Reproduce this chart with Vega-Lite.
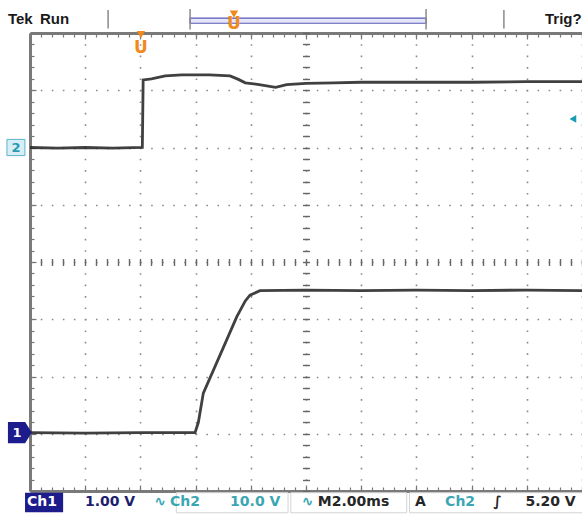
{
  "$schema": "https://vega.github.io/schema/vega-lite/v6.json",
  "width": 552,
  "height": 458,
  "autosize": {"type": "none"},
  "padding": {"left": 30, "top": 33, "right": 0, "bottom": 23},
  "background": "white",
  "config": {"view": {"stroke": null}, "axis": {"labels": false, "title": null}},
  "datasets": {
    "traces": [
      {"ch": "Ch2", "t": 0, "v": 2.0}, {"ch": "Ch2", "t": 1, "v": 1.99}, {"ch": "Ch2", "t": 2, "v": 2.0}, {"ch": "Ch2", "t": 3, "v": 1.99}, {"ch": "Ch2", "t": 4.07, "v": 2.0},
      {"ch": "Ch2", "t": 4.1, "v": 3.18}, {"ch": "Ch2", "t": 4.4, "v": 3.2}, {"ch": "Ch2", "t": 4.9, "v": 3.25}, {"ch": "Ch2", "t": 5.5, "v": 3.27}, {"ch": "Ch2", "t": 6.5, "v": 3.27},
      {"ch": "Ch2", "t": 7.25, "v": 3.25}, {"ch": "Ch2", "t": 7.55, "v": 3.19}, {"ch": "Ch2", "t": 7.8, "v": 3.13}, {"ch": "Ch2", "t": 8.3, "v": 3.1}, {"ch": "Ch2", "t": 8.9, "v": 3.05},
      {"ch": "Ch2", "t": 9.3, "v": 3.1}, {"ch": "Ch2", "t": 10, "v": 3.12}, {"ch": "Ch2", "t": 11, "v": 3.13}, {"ch": "Ch2", "t": 12, "v": 3.14}, {"ch": "Ch2", "t": 14, "v": 3.14},
      {"ch": "Ch2", "t": 16, "v": 3.14}, {"ch": "Ch2", "t": 18, "v": 3.15}, {"ch": "Ch2", "t": 20, "v": 3.15},
      {"ch": "Ch1", "t": 0, "v": -2.98}, {"ch": "Ch1", "t": 2, "v": -2.99}, {"ch": "Ch1", "t": 4, "v": -2.98}, {"ch": "Ch1", "t": 5.98, "v": -2.98}, {"ch": "Ch1", "t": 6.1, "v": -2.8},
      {"ch": "Ch1", "t": 6.28, "v": -2.29}, {"ch": "Ch1", "t": 7.0, "v": -1.5}, {"ch": "Ch1", "t": 7.49, "v": -0.96}, {"ch": "Ch1", "t": 7.8, "v": -0.68}, {"ch": "Ch1", "t": 7.97, "v": -0.58},
      {"ch": "Ch1", "t": 8.33, "v": -0.5}, {"ch": "Ch1", "t": 10, "v": -0.49}, {"ch": "Ch1", "t": 12, "v": -0.5}, {"ch": "Ch1", "t": 14, "v": -0.49}, {"ch": "Ch1", "t": 16, "v": -0.5},
      {"ch": "Ch1", "t": 18, "v": -0.49}, {"ch": "Ch1", "t": 20, "v": -0.5}
    ],
    "top": [
      {"t": -0.8, "v": 4.24, "label": "Tek"},
      {"t": 0.36, "v": 4.24, "label": "Run"},
      {"t": 18.66, "v": 4.24, "label": "Trig?"}
    ],
    "status": [
      {"t": -0.11, "v": -4.19, "label": "Ch1", "grp": "inv"},
      {"t": 1.99, "v": -4.19, "label": "1.00 V", "grp": "ch1"},
      {"t": 4.5, "v": -4.19, "label": "∿", "grp": "ch2"},
      {"t": 5.07, "v": -4.19, "label": "Ch2", "grp": "ch2"},
      {"t": 7.25, "v": -4.19, "label": "10.0 V", "grp": "ch2"},
      {"t": 9.85, "v": -4.19, "label": "∿", "grp": "ch2"},
      {"t": 10.43, "v": -4.19, "label": "M2.00ms", "grp": "sys"},
      {"t": 13.95, "v": -4.19, "label": "A", "grp": "sys"},
      {"t": 15.04, "v": -4.19, "label": "Ch2", "grp": "ch2"},
      {"t": 16.78, "v": -4.19, "label": "∫", "grp": "sys"},
      {"t": 17.95, "v": -4.19, "label": "5.20 V", "grp": "sys"}
    ],
    "panels": [
      {"t": 5.3, "t2": 9.35, "v": -4.03, "v2": -4.38},
      {"t": 9.45, "t2": 13.65, "v": -4.03, "v2": -4.38},
      {"t": 13.75, "t2": 20.2, "v": -4.03, "v2": -4.38}
    ],
    "boxes": [
      {"t": -0.18, "t2": 1.2, "v": -4.03, "v2": -4.37, "kind": "ch1"}
    ],
    "record": [
      {"t": 5.8, "t2": 14.35, "v": 4.17, "v2": 4.26}
    ],
    "bars": [
      {"t": 2.83, "v": 4.08, "v2": 4.4},
      {"t": 17.17, "v": 4.08, "v2": 4.4},
      {"t": 5.8, "v": 4.06, "v2": 4.42},
      {"t": 14.35, "v": 4.06, "v2": 4.42}
    ],
    "trigTri": [
      {"t": 4.02, "v": 3.97},
      {"t": 7.39, "v": 4.33}
    ],
    "trigU": [
      {"t": 4.02, "v": 3.74, "label": "U"},
      {"t": 7.39, "v": 4.15, "label": "U"}
    ],
    "gnd1": [{"t": -0.32, "v": -2.98}],
    "gnd1txt": [{"t": -0.47, "v": -2.98, "label": "1"}],
    "gnd2": [{"t": -0.51, "v": 2.0}],
    "gnd2txt": [{"t": -0.51, "v": 2.0, "label": "2"}],
    "level": [{"t": 19.67, "v": 2.5}]
  },
  "resolve": {"axis": {"x": "independent", "y": "independent"}},
  "layer": [
    {
      "data": {"name": "panels"},
      "mark": {"type": "rect", "fill": "#ffffff", "stroke": "#d4d4d4", "strokeWidth": 1},
      "encoding": {
        "x": {"field": "t", "type": "quantitative", "scale": {"domain": [0, 20], "nice": false, "zero": false}, "axis": null},
        "x2": {"field": "t2"},
        "y": {"field": "v", "type": "quantitative", "scale": {"domain": [-4, 4], "nice": false, "zero": false}, "axis": null},
        "y2": {"field": "v2"}
      }
    },
    {
      "data": {"name": "traces"},
      "mark": {"type": "line", "color": "#2b2b2b", "strokeWidth": 2.8, "opacity": 0.9},
      "encoding": {
        "x": {"field": "t", "type": "quantitative", "scale": {"domain": [0, 20], "nice": false, "zero": false},
          "axis": {"orient": "bottom", "values": [0,2,4,6,8,10,12,14,16,18,20], "grid": true, "gridColor": "#8a8a8a", "gridWidth": 1.6, "gridDash": [1.6, 9.85], "gridDashOffset": 0.8,
            "domain": true, "domainColor": "#7a7a7a", "domainWidth": 3, "ticks": true, "tickSize": -6, "tickColor": "#777", "tickWidth": 1.2, "labels": false, "title": null}},
        "y": {"field": "v", "type": "quantitative", "scale": {"domain": [-4, 4], "nice": false, "zero": false},
          "axis": {"orient": "left", "values": [-4,-3,-2,-1,0,1,2,3,4], "grid": true, "gridColor": "#8a8a8a", "gridWidth": 1.6, "gridDash": [1.6, 9.44], "gridDashOffset": 0.8,
            "domain": true, "domainColor": "#7a7a7a", "domainWidth": 3, "ticks": true, "tickSize": -6, "tickColor": "#777", "tickWidth": 1.2, "labels": false, "title": null}},
        "detail": {"field": "ch", "type": "nominal"}
      }
    },
    {
      "data": {"name": "boxes"},
      "mark": {"type": "rect", "color": "#1c1c8c"},
      "encoding": {
        "x": {"field": "t", "type": "quantitative", "scale": {"domain": [0, 20], "nice": false, "zero": false},
          "axis": {"orient": "bottom", "offset": -232.5, "values": [0,0.4,0.8,1.2,1.6,2,2.4,2.8,3.2,3.6,4,4.4,4.8,5.2,5.6,6,6.4,6.8,7.2,7.6,8,8.4,8.8,9.2,9.6,10,10.4,10.8,11.2,11.6,12,12.4,12.8,13.2,13.6,14,14.4,14.8,15.2,15.6,16,16.4,16.8,17.2,17.6,18,18.4,18.8,19.2,19.6,20],
            "grid": false, "domain": false, "ticks": true, "tickSize": 7, "tickColor": "#666", "tickWidth": 1.4, "labels": false, "title": null}},
        "x2": {"field": "t2"},
        "y": {"field": "v", "type": "quantitative", "scale": {"domain": [-4, 4], "nice": false, "zero": false},
          "axis": {"orient": "left", "offset": -279.5, "values": [-4,-3.8,-3.6,-3.4,-3.2,-3,-2.8,-2.6,-2.4,-2.2,-2,-1.8,-1.6,-1.4,-1.2,-1,-0.8,-0.6,-0.4,-0.2,0,0.2,0.4,0.6,0.8,1,1.2,1.4,1.6,1.8,2,2.2,2.4,2.6,2.8,3,3.2,3.4,3.6,3.8,4],
            "grid": false, "domain": false, "ticks": true, "tickSize": 7, "tickColor": "#666", "tickWidth": 1.4, "labels": false, "title": null}},
        "y2": {"field": "v2"}
      }
    },
    {
      "data": {"name": "record"},
      "mark": {"type": "rect", "fill": "#e6e6fa", "stroke": "#5a5ab8", "strokeWidth": 1.2},
      "encoding": {
        "x": {"field": "t", "type": "quantitative", "scale": {"domain": [0, 20], "nice": false, "zero": false},
          "axis": {"orient": "top", "values": [0,0.4,0.8,1.2,1.6,2,2.4,2.8,3.2,3.6,4,4.4,4.8,5.2,5.6,6,6.4,6.8,7.2,7.6,8,8.4,8.8,9.2,9.6,10,10.4,10.8,11.2,11.6,12,12.4,12.8,13.2,13.6,14,14.4,14.8,15.2,15.6,16,16.4,16.8,17.2,17.6,18,18.4,18.8,19.2,19.6,20],
            "grid": false, "domain": true, "domainColor": "#7a7a7a", "domainWidth": 3, "ticks": true, "tickSize": -4, "tickColor": "#777", "tickWidth": 1.2, "labels": false, "title": null}},
        "x2": {"field": "t2"},
        "y": {"field": "v", "type": "quantitative", "scale": {"domain": [-4, 4], "nice": false, "zero": false},
          "axis": {"orient": "left", "values": [-4,-3.8,-3.6,-3.4,-3.2,-3,-2.8,-2.6,-2.4,-2.2,-2,-1.8,-1.6,-1.4,-1.2,-1,-0.8,-0.6,-0.4,-0.2,0,0.2,0.4,0.6,0.8,1,1.2,1.4,1.6,1.8,2,2.2,2.4,2.6,2.8,3,3.2,3.4,3.6,3.8,4],
            "grid": false, "domain": false, "ticks": true, "tickSize": -4, "tickColor": "#777", "tickWidth": 1.2, "labels": false, "title": null}},
        "y2": {"field": "v2"}
      }
    },
    {
      "data": {"name": "bars"},
      "mark": {"type": "rule", "color": "#8a8a8a", "strokeWidth": 1.5},
      "encoding": {
        "x": {"field": "t", "type": "quantitative", "scale": {"domain": [0, 20], "nice": false, "zero": false},
          "axis": {"orient": "bottom", "values": [0,0.4,0.8,1.2,1.6,2,2.4,2.8,3.2,3.6,4,4.4,4.8,5.2,5.6,6,6.4,6.8,7.2,7.6,8,8.4,8.8,9.2,9.6,10,10.4,10.8,11.2,11.6,12,12.4,12.8,13.2,13.6,14,14.4,14.8,15.2,15.6,16,16.4,16.8,17.2,17.6,18,18.4,18.8,19.2,19.6,20],
            "grid": false, "domain": false, "ticks": true, "tickSize": -4, "tickColor": "#777", "tickWidth": 1.2, "labels": false, "title": null}},
        "y": {"field": "v", "type": "quantitative", "scale": {"domain": [-4, 4], "nice": false, "zero": false}, "axis": null},
        "y2": {"field": "v2"}
      }
    },
    {
      "data": {"name": "top"},
      "mark": {"type": "text", "align": "left", "baseline": "middle", "font": "Liberation Sans", "fontSize": 15, "fontWeight": "bold", "color": "#1a1a1a"},
      "encoding": {
        "x": {"field": "t", "type": "quantitative", "scale": {"domain": [0, 20], "nice": false, "zero": false},
          "axis": {"orient": "top", "values": [0,2,4,6,8,10,12,14,16,18,20], "grid": false, "domain": false, "ticks": true, "tickSize": -6, "tickColor": "#777", "tickWidth": 1.2, "labels": false, "title": null}},
        "y": {"field": "v", "type": "quantitative", "scale": {"domain": [-4, 4], "nice": false, "zero": false}, "axis": null},
        "text": {"field": "label"}
      }
    },
    {
      "data": {"name": "status"},
      "mark": {"type": "text", "align": "left", "baseline": "middle", "font": "DejaVu Sans", "fontSize": 14, "fontWeight": "bold"},
      "encoding": {
        "x": {"field": "t", "type": "quantitative", "scale": {"domain": [0, 20], "nice": false, "zero": false}, "axis": null},
        "y": {"field": "v", "type": "quantitative", "scale": {"domain": [-4, 4], "nice": false, "zero": false}, "axis": null},
        "text": {"field": "label"},
        "color": {"field": "grp", "type": "nominal", "scale": {"domain": ["inv", "ch1", "ch2", "sys"], "range": ["#ffffff", "#1e1e6e", "#3aa6b4", "#262626"]}, "legend": null}
      }
    },
    {
      "data": {"name": "trigTri"},
      "mark": {"type": "point", "shape": "triangle-down", "filled": true, "size": 70, "color": "#f08a1c", "opacity": 1},
      "encoding": {
        "x": {"field": "t", "type": "quantitative", "scale": {"domain": [0, 20], "nice": false, "zero": false}, "axis": null},
        "y": {"field": "v", "type": "quantitative", "scale": {"domain": [-4, 4], "nice": false, "zero": false}, "axis": null}
      }
    },
    {
      "data": {"name": "trigU"},
      "mark": {"type": "text", "align": "center", "baseline": "middle", "font": "DejaVu Sans", "fontSize": 17, "fontWeight": "bold", "color": "#f08a1c"},
      "encoding": {
        "x": {"field": "t", "type": "quantitative", "scale": {"domain": [0, 20], "nice": false, "zero": false}, "axis": null},
        "y": {"field": "v", "type": "quantitative", "scale": {"domain": [-4, 4], "nice": false, "zero": false}, "axis": null},
        "text": {"field": "label"}
      }
    },
    {
      "data": {"name": "gnd1"},
      "mark": {"type": "point", "shape": "M-1,-0.8L0.3,-0.8L0.8,0L0.3,0.8L-1,0.8Z", "filled": true, "size": 700, "color": "#1c1c8c", "opacity": 1},
      "encoding": {
        "x": {"field": "t", "type": "quantitative", "scale": {"domain": [0, 20], "nice": false, "zero": false}, "axis": null},
        "y": {"field": "v", "type": "quantitative", "scale": {"domain": [-4, 4], "nice": false, "zero": false}, "axis": null}
      }
    },
    {
      "data": {"name": "gnd1txt"},
      "mark": {"type": "text", "align": "center", "baseline": "middle", "font": "DejaVu Sans", "fontSize": 13, "fontWeight": "bold", "color": "#ffffff"},
      "encoding": {
        "x": {"field": "t", "type": "quantitative", "scale": {"domain": [0, 20], "nice": false, "zero": false}, "axis": null},
        "y": {"field": "v", "type": "quantitative", "scale": {"domain": [-4, 4], "nice": false, "zero": false}, "axis": null},
        "text": {"field": "label"}
      }
    },
    {
      "data": {"name": "gnd2"},
      "mark": {"type": "point", "shape": "M-1,-0.9L1,-0.9L1,0.9L-1,0.9Z", "filled": true, "size": 324, "fill": "#d8eef6", "stroke": "#5ab4cc", "strokeWidth": 1, "opacity": 1},
      "encoding": {
        "x": {"field": "t", "type": "quantitative", "scale": {"domain": [0, 20], "nice": false, "zero": false}, "axis": null},
        "y": {"field": "v", "type": "quantitative", "scale": {"domain": [-4, 4], "nice": false, "zero": false}, "axis": null}
      }
    },
    {
      "data": {"name": "gnd2txt"},
      "mark": {"type": "text", "align": "center", "baseline": "middle", "font": "DejaVu Sans", "fontSize": 13, "fontWeight": "bold", "color": "#2a9ab4"},
      "encoding": {
        "x": {"field": "t", "type": "quantitative", "scale": {"domain": [0, 20], "nice": false, "zero": false}, "axis": null},
        "y": {"field": "v", "type": "quantitative", "scale": {"domain": [-4, 4], "nice": false, "zero": false}, "axis": null},
        "text": {"field": "label"}
      }
    },
    {
      "data": {"name": "level"},
      "mark": {"type": "point", "shape": "triangle-left", "filled": true, "size": 60, "color": "#1a9cb4", "opacity": 1},
      "encoding": {
        "x": {"field": "t", "type": "quantitative", "scale": {"domain": [0, 20], "nice": false, "zero": false}, "axis": null},
        "y": {"field": "v", "type": "quantitative", "scale": {"domain": [-4, 4], "nice": false, "zero": false}, "axis": null}
      }
    }
  ]
}
